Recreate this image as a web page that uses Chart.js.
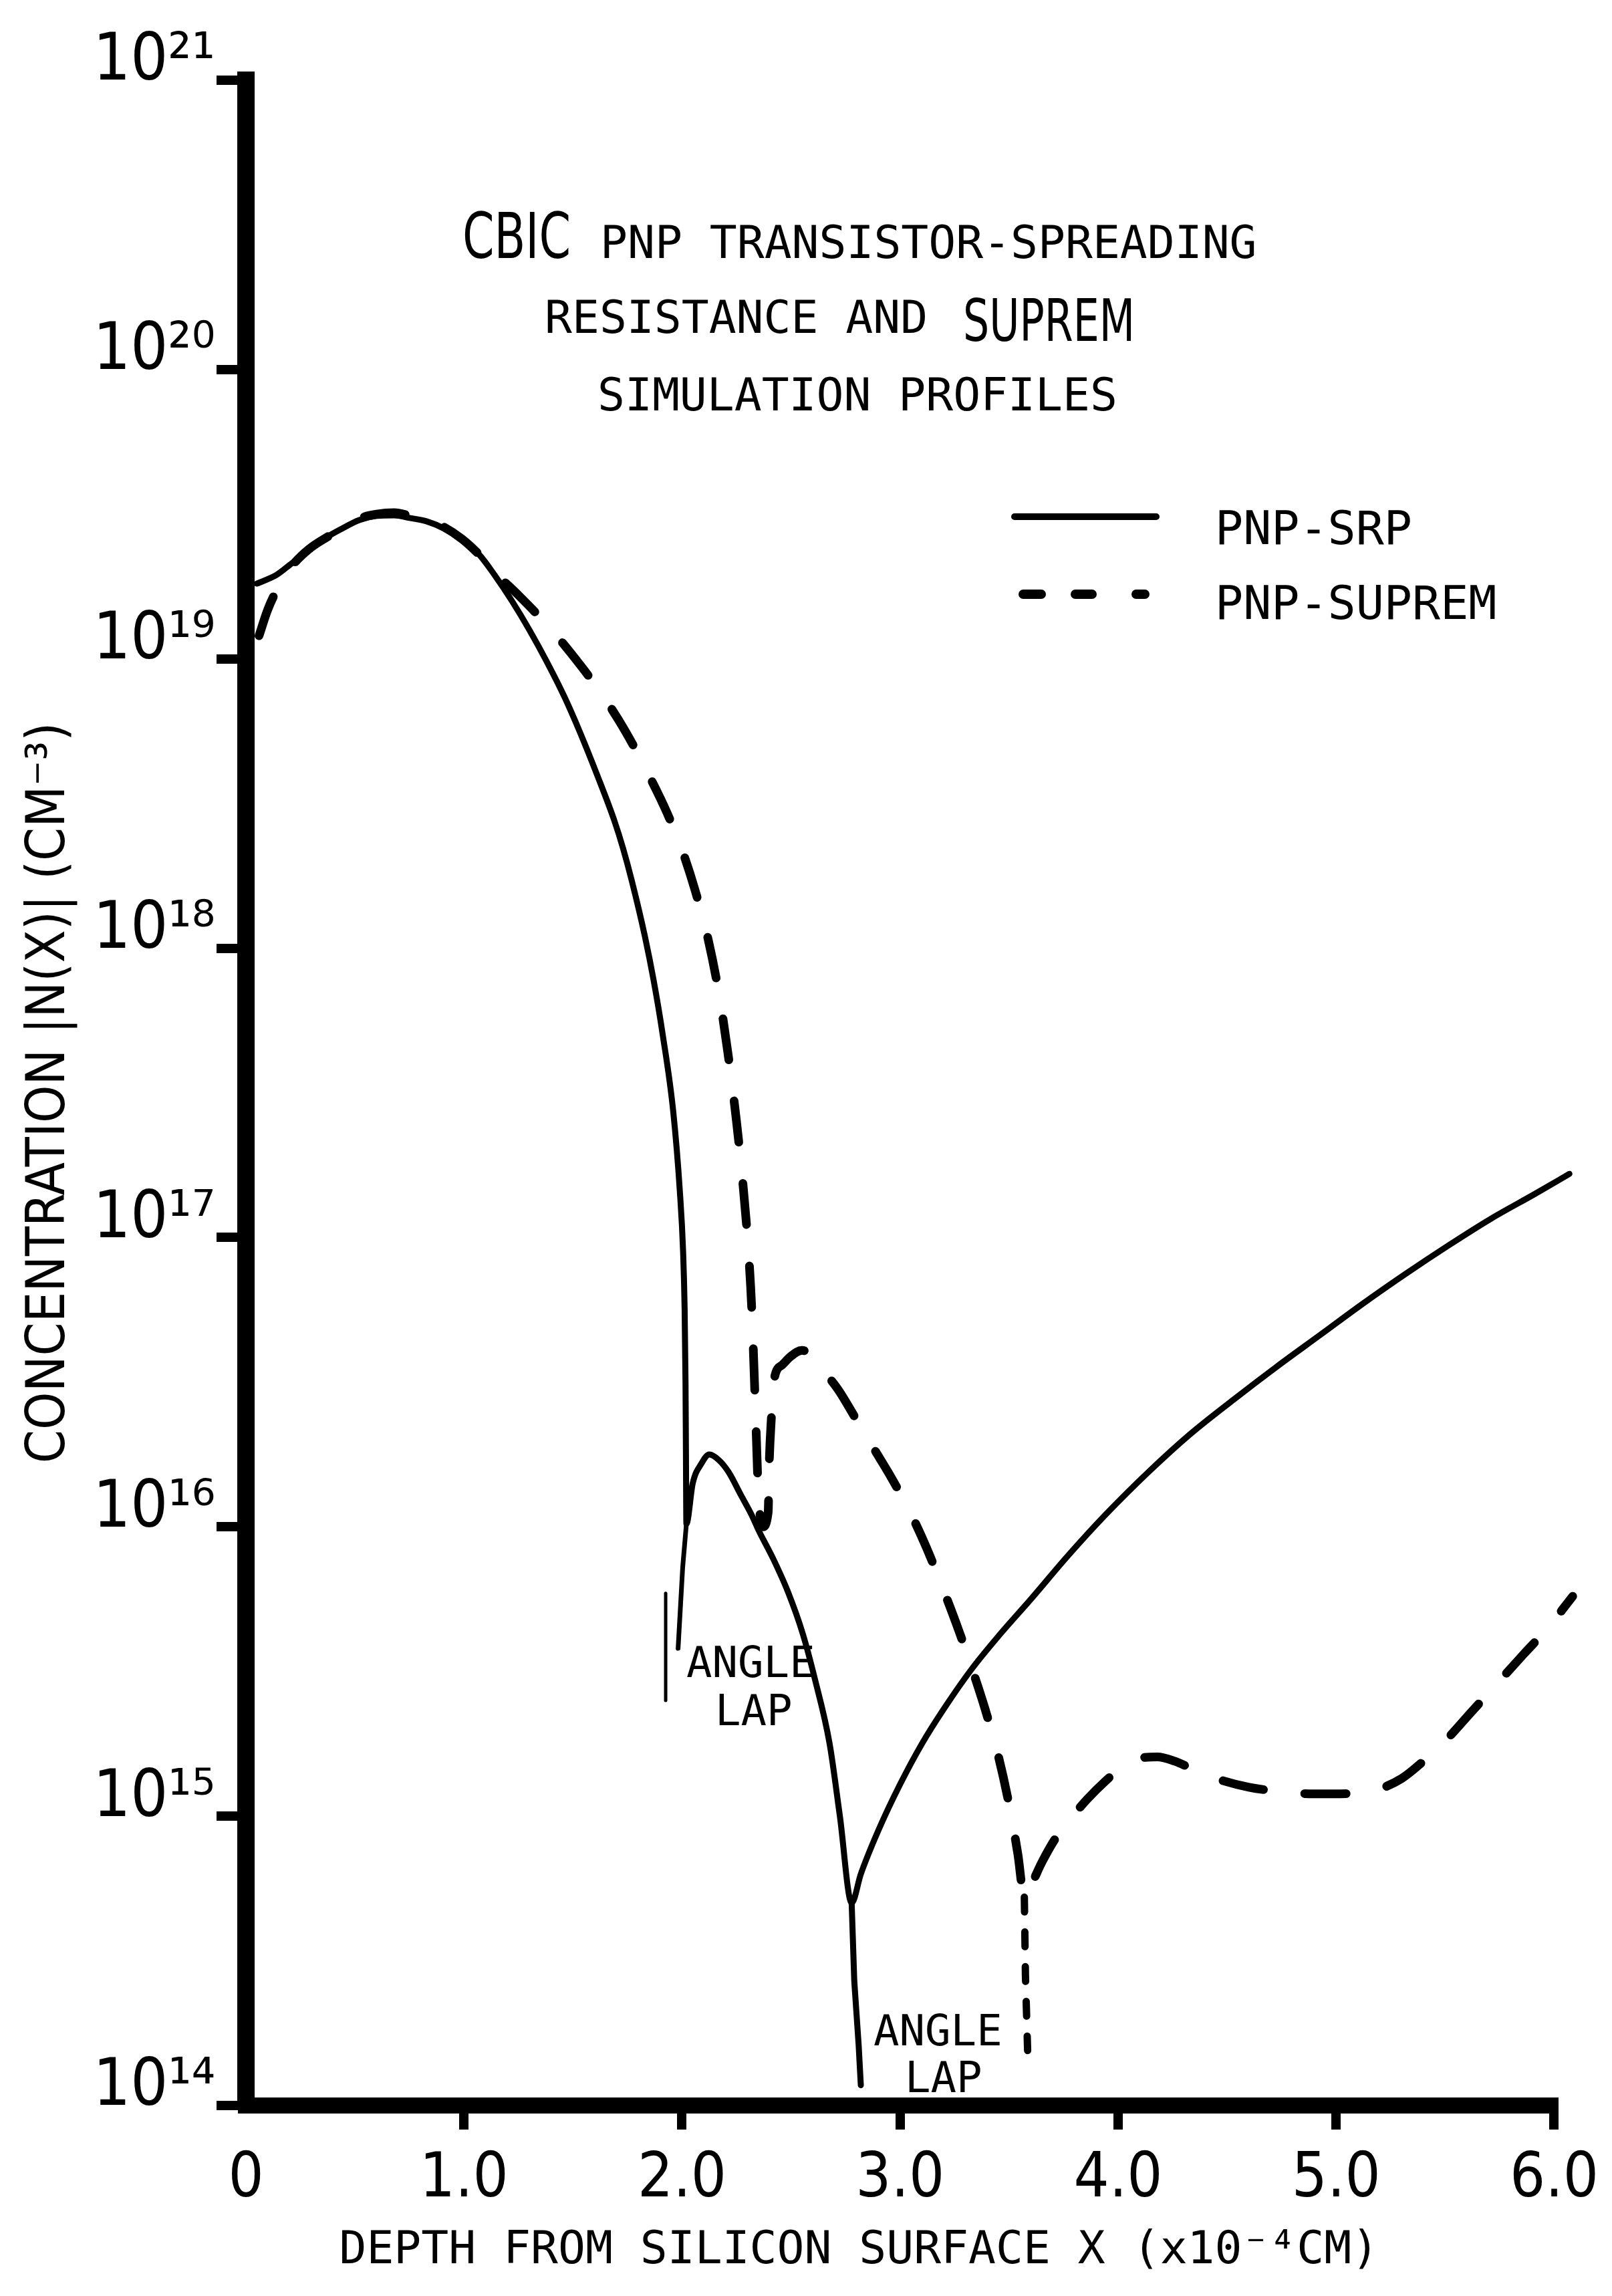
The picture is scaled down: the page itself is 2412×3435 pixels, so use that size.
<!DOCTYPE html>
<html>
<head>
<meta charset="utf-8">
<title>CBIC PNP transistor - spreading resistance and SUPREM profiles</title>
<script src="https://cdn.jsdelivr.net/npm/chart.js@4.4.1/dist/chart.umd.min.js"></script>
<style>
    html, body { margin: 0; padding: 0; background: #fff; }
    #wrap { width: 2412px; height: 3435px; }
</style>
</head>
<body>
<div id="wrap"><canvas id="profileChart" width="2412" height="3435"></canvas></div>
<script>
// depth in units of 1e-4 cm, concentration kept as log10 of |N(x)| in cm^-3

// PNP-SRP (solid)
const srpDepth = [
    0.05, 0.14, 0.21, 0.29, 0.37, 0.44, 0.52, 0.60, 0.68, 0.75,
    0.83, 0.91, 0.99, 1.07, 1.14, 1.22, 1.30, 1.38, 1.46, 1.53,
    1.61, 1.69, 1.73, 1.77, 1.83, 1.87, 1.91, 1.96, 1.99, 2.005,
    2.012, 2.016, 2.018, 2.02, 2.049, 2.09, 2.125, 2.17, 2.213, 2.27,
    2.32, 2.35, 2.418, 2.486, 2.554, 2.609, 2.677, 2.724, 2.778, 2.82,
    2.90, 3.00, 3.10, 3.20, 3.33, 3.46, 3.60, 3.77, 3.94, 4.14,
    4.33, 4.53, 4.73, 4.93, 5.12, 5.32, 5.52, 5.71, 5.91, 6.07
];
const srpLogConc = [
    19.26, 19.29, 19.33, 19.375, 19.42, 19.45, 19.48, 19.494, 19.496, 19.487,
    19.475, 19.45, 19.41, 19.36, 19.29, 19.20, 19.10, 18.99, 18.87, 18.75,
    18.60, 18.44, 18.344, 18.232, 18.04, 17.888, 17.708, 17.433, 17.16, 16.95,
    16.75, 16.50, 16.25, 16.01, 16.15, 16.22, 16.25, 16.23, 16.19, 16.11,
    16.04, 15.99, 15.89, 15.775, 15.63, 15.475, 15.25, 15.00, 14.70, 14.80,
    14.95, 15.11, 15.25, 15.37, 15.51, 15.63, 15.75, 15.90, 16.04, 16.19,
    16.32, 16.44, 16.555, 16.665, 16.77, 16.875, 16.975, 17.065, 17.15, 17.22
];

// PNP-SUPREM (dashed)
const supremDepth = [
    0.06, 0.10, 0.15, 0.21, 0.29, 0.37, 0.45, 0.52, 0.60, 0.68,
    0.75, 0.83, 0.91, 0.99, 1.07, 1.14, 1.25, 1.39, 1.49, 1.63,
    1.74, 1.86, 1.93, 2.00, 2.06, 2.12, 2.17, 2.21, 2.25, 2.28,
    2.305, 2.32, 2.33, 2.34, 2.35, 2.37, 2.395, 2.40, 2.41, 2.42,
    2.46, 2.50, 2.55, 2.60, 2.66, 2.72, 2.80, 2.88, 2.96, 3.04,
    3.12, 3.20, 3.27, 3.33, 3.39, 3.45, 3.50, 3.54, 3.57, 3.60,
    3.65, 3.71, 3.78, 3.86, 3.94, 4.02, 4.10, 4.18, 4.26, 4.35,
    4.45, 4.60, 4.75, 4.90, 5.05, 5.18, 5.30, 5.40, 5.50, 5.62,
    5.74, 5.86, 5.97, 6.085
];
const supremLogConc = [
    19.08, 19.17, 19.25, 19.32, 19.38, 19.42, 19.455, 19.485, 19.50, 19.505,
    19.495, 19.48, 19.455, 19.415, 19.36, 19.30, 19.22, 19.11, 19.02, 18.88,
    18.75, 18.58, 18.47, 18.34, 18.20, 18.03, 17.84, 17.64, 17.40, 17.18,
    16.95, 16.75, 16.55, 16.33, 16.12, 16.00, 16.05, 16.22, 16.38, 16.50,
    16.56, 16.59, 16.61, 16.59, 16.53, 16.47, 16.37, 16.27, 16.17, 16.06,
    15.93, 15.78, 15.64, 15.51, 15.37, 15.21, 15.04, 14.87, 14.72, 14.76,
    14.84, 14.92, 14.99, 15.06, 15.12, 15.17, 15.20, 15.205, 15.19, 15.16,
    15.13, 15.10, 15.085, 15.077, 15.078, 15.09, 15.13, 15.19, 15.26, 15.36,
    15.46, 15.56, 15.65, 15.76
];

// angle-lap strokes
const lapMarkDepth = [1.925, 1.925];
const lapMarkLogConc = [15.77, 15.40];
const srpLapDropDepth = [2.02, 2.003, 1.982];
const srpLapDropLogConc = [16.01, 15.86, 15.58];
const srpVDropDepth = [2.778, 2.79, 2.81, 2.82];
const srpVDropLogConc = [14.70, 14.43, 14.21, 14.07];
const supremLapDropDepth = [3.57, 3.575, 3.585];
const supremLapDropLogConc = [14.72, 14.45, 14.19];

// axes
const xTickValues = [0, 1, 2, 3, 4, 5, 6];
const xTickLabels = ['0', '1.0', '2.0', '3.0', '4.0', '5.0', '6.0'];
const yTickExponents = [14, 15, 16, 17, 18, 19, 20, 21];

const monoFont = '"DejaVu Sans Mono", "Liberation Mono", monospace';
const narrowFont = '"Liberation Sans Narrow", "DejaVu Sans Condensed", "Liberation Sans", sans-serif';

const supDigits = {'0': '⁰', '1': '¹', '2': '²', '3': '³', '4': '⁴', '5': '⁵', '6': '⁶', '7': '⁷', '8': '⁸', '9': '⁹', '-': '⁻'};
const toSup = n => String(n).split('').map(c => supDigits[c]).join('');

function toPoints(depths, logs) {
    return depths.map((d, i) => ({ x: d, y: Math.pow(10, logs[i]) }));
}

const solidStyle = {
    borderColor: '#000', borderWidth: 9, pointRadius: 0, fill: false, clip: false,
    cubicInterpolationMode: 'monotone', borderCapStyle: 'round', borderJoinStyle: 'round'
};
const dashStyle = {
    borderColor: '#000', borderWidth: 13, pointRadius: 0, fill: false, clip: false,
    cubicInterpolationMode: 'monotone', borderDash: [62, 62], borderCapStyle: 'round'
};

// title, legend and angle-lap notes drawn over the plot
const overlayText = {
    id: 'overlayText',
    afterDraw(chart) {
        const ctx = chart.ctx;
        ctx.save();
        ctx.fillStyle = '#000';
        ctx.strokeStyle = '#000';
        ctx.textAlign = 'left';
        ctx.textBaseline = 'alphabetic';

        // title
        ctx.font = '94px ' + narrowFont;
        ctx.fillText('CBIC', 692, 386, 162);
        ctx.font = '68px ' + monoFont;
        ctx.fillText('PNP TRANSISTOR-SPREADING', 898, 386);
        ctx.fillText('RESISTANCE AND', 815, 498);
        ctx.font = '88px ' + narrowFont;
        ctx.fillText('SUPREM', 1441, 510, 257);
        ctx.font = '68px ' + monoFont;
        ctx.fillText('SIMULATION PROFILES', 894, 614);

        // legend
        ctx.lineCap = 'round';
        ctx.lineWidth = 10;
        ctx.beginPath();
        ctx.moveTo(1518, 773);
        ctx.lineTo(1730, 773);
        ctx.stroke();
        ctx.lineWidth = 14;
        [[1531, 1558], [1609, 1634], [1700, 1713]].forEach(seg => {
            ctx.beginPath();
            ctx.moveTo(seg[0], 889);
            ctx.lineTo(seg[1], 889);
            ctx.stroke();
        });
        ctx.font = '70px ' + monoFont;
        ctx.fillText(chart.data.datasets[0].label, 1818, 814);
        ctx.fillText(chart.data.datasets[1].label, 1818, 926);

        // angle lap notes
        ctx.font = '64px ' + monoFont;
        ctx.fillText('ANGLE', 1027, 2509);
        ctx.fillText('LAP', 1070, 2581);
        ctx.fillText('ANGLE', 1307, 3060);
        ctx.fillText('LAP', 1354, 3130);
        ctx.restore();
    }
};

const ctx = document.getElementById('profileChart').getContext('2d');
const profileChart = new Chart(ctx, {
    type: 'line',
    data: {
        datasets: [
            Object.assign({ label: 'PNP-SRP', data: toPoints(srpDepth, srpLogConc) }, solidStyle),
            Object.assign({ label: 'PNP-SUPREM', data: toPoints(supremDepth, supremLogConc) }, dashStyle),
            Object.assign({ label: 'lap mark', data: toPoints(lapMarkDepth, lapMarkLogConc) }, solidStyle, { borderWidth: 5 }),
            Object.assign({ label: 'srp lap', data: toPoints(srpLapDropDepth, srpLapDropLogConc) }, solidStyle, { borderWidth: 7, cubicInterpolationMode: 'default', tension: 0 }),
            Object.assign({ label: 'srp v', data: toPoints(srpVDropDepth, srpVDropLogConc) }, solidStyle, { borderWidth: 9, cubicInterpolationMode: 'default', tension: 0 }),
            Object.assign({ label: 'suprem lap', data: toPoints(supremLapDropDepth, supremLapDropLogConc) }, dashStyle, { borderWidth: 11, borderDash: [22, 30], cubicInterpolationMode: 'default', tension: 0 })
        ]
    },
    options: {
        responsive: false,
        devicePixelRatio: 1,
        animation: false,
        layout: { padding: { left: 0, right: 79, top: 120, bottom: 0 } },
        plugins: {
            legend: { display: false },
            tooltip: { enabled: false },
            title: { display: false }
        },
        scales: {
            x: {
                type: 'linear',
                min: 0,
                max: 6,
                afterBuildTicks: scale => { scale.ticks = xTickValues.map(v => ({ value: v })); },
                afterFit: scale => { scale.height = 285; },
                ticks: {
                    autoSkip: false,
                    maxRotation: 0,
                    color: '#000',
                    padding: 20,
                    font: { family: narrowFont, size: 93 },
                    callback: (value, index) => xTickLabels[index]
                },
                grid: {
                    drawOnChartArea: false,
                    drawTicks: true,
                    tickLength: 36,
                    lineWidth: 14,
                    tickWidth: 14,
                    tickColor: c => (c.index === 0 ? 'rgba(0,0,0,0)' : '#000')
                },
                border: { display: true, color: '#000', width: 24 },
                title: {
                    display: true,
                    text: 'DEPTH FROM SILICON SURFACE X (x10⁻⁴CM)   ',
                    color: '#000',
                    font: { family: monoFont, size: 68 },
                    padding: { top: 0, bottom: 26 }
                }
            },
            y: {
                type: 'logarithmic',
                min: 1e14,
                max: 1e21,
                afterBuildTicks: scale => { scale.ticks = yTickExponents.map(e => ({ value: Math.pow(10, e) })); },
                afterFit: scale => { scale.width = 368; },
                ticks: {
                    autoSkip: false,
                    color: '#000',
                    padding: 2,
                    labelOffset: -26,
                    font: { family: narrowFont, size: 98 },
                    callback: (value, index) => '10' + toSup(yTickExponents[index])
                },
                grid: {
                    drawOnChartArea: false,
                    drawTicks: true,
                    tickLength: 44,
                    lineWidth: 14,
                    tickWidth: 14,
                    tickColor: '#000'
                },
                border: { display: true, color: '#000', width: 26 },
                title: {
                    display: true,
                    text: 'CONCENTRATION |N(X)| (CM⁻³)',
                    color: '#000',
                    font: { family: narrowFont, size: 80 },
                    padding: { top: 27, bottom: 0 }
                }
            }
        }
    },
    plugins: [overlayText]
});
</script>
</body>
</html>
